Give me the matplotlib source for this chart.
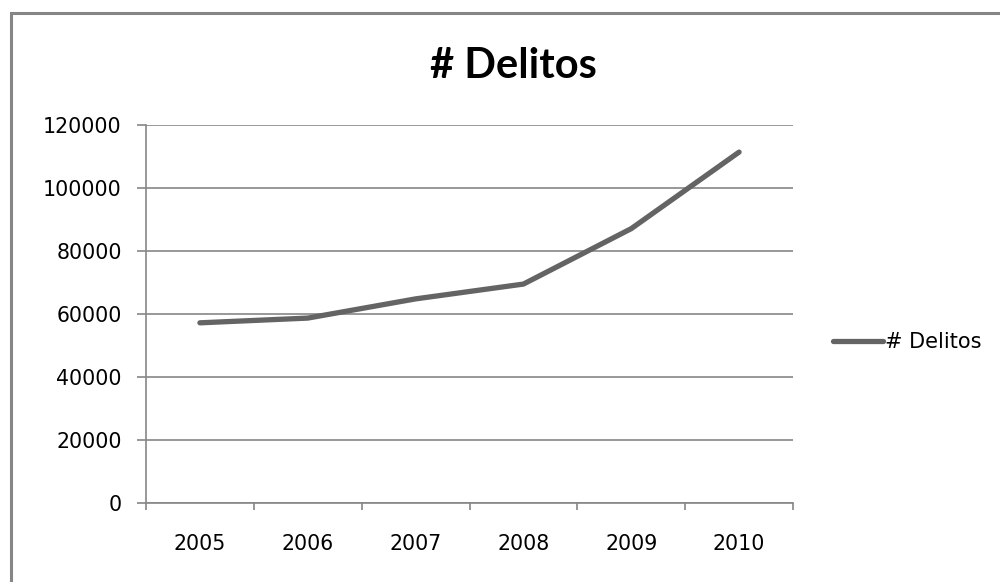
import matplotlib
matplotlib.use("Agg")
import matplotlib.pyplot as plt
from matplotlib.patches import Rectangle
import numpy as np

years = ["2005", "2006", "2007", "2008", "2009", "2010"]
delitos = [57200, 58700, 64800, 69500, 87100, 111400]
yticks = [0, 20000, 40000, 60000, 80000, 100000, 120000]

plt.rcParams['font.family'] = ['DejaVu Sans']

fig = plt.figure(figsize=(10, 5.82), dpi=100)
ax = fig.add_axes([0.146, 1 - 503/582, 0.793 - 0.146, (503 - 125)/582])

x = np.arange(len(years))
line, = ax.plot(x, delitos, color="#646464", lw=3.8, solid_capstyle="round",
                solid_joinstyle="round", label="# Delitos")

ax.set_xlim(-0.5, len(years) - 0.5)
ax.set_ylim(0, 120000)
ax.set_yticks(yticks)
ax.set_yticklabels([str(v) for v in yticks])
ax.set_xticks(np.arange(len(years) + 1) - 0.5)
ax.set_xticklabels([])
ax.set_xticks(x, minor=True)
ax.set_xticklabels(years, minor=True)

gc = "#868686"
ax.grid(axis="y", color=gc, lw=1.2)
ax.set_axisbelow(True)
for s in ["top", "right"]:
    ax.spines[s].set_visible(False)
for s in ["left", "bottom"]:
    ax.spines[s].set_color(gc)
    ax.spines[s].set_linewidth(1.2)
ax.tick_params(axis="y", which="major", length=6.5, width=1.2, color=gc, labelsize=14.8, pad=11)
ax.tick_params(axis="x", which="major", length=5, width=1.2, color=gc)
ax.tick_params(axis="x", which="minor", length=0, labelsize=14.8, pad=22.5)

fig.text(0.513, 1 - 66/582, "# Delitos", ha="center", va="center", fontsize=30,
         fontweight="bold", family=["Lato", "DejaVu Sans"])

leg = fig.legend(handles=[line], loc="center left", bbox_to_anchor=(0.833, 1 - 342/582),
                 frameon=False, fontsize=15, handlelength=2.4, handletextpad=0.1,
                 borderaxespad=0, borderpad=0)

fig.patches.append(Rectangle((10.5/1000, -0.1), 1.2, 1.1 - 13/582, transform=fig.transFigure,
                             fill=False, edgecolor="#868686", lw=2.2))

fig.savefig("out.png", dpi=100)
